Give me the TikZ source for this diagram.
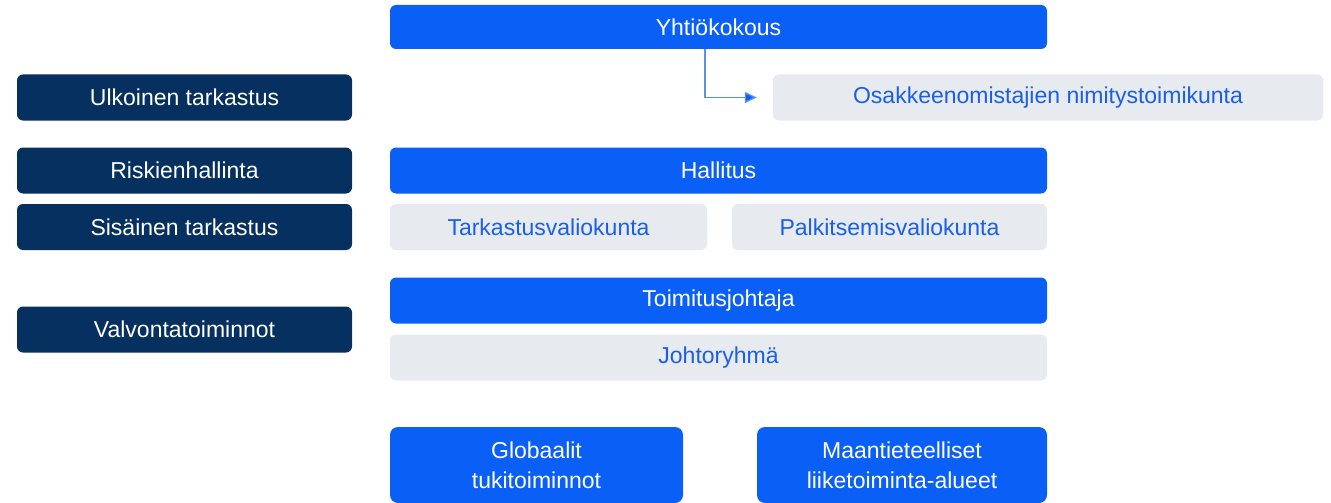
\documentclass[tikz,border=0pt]{standalone}
\usepackage{fontspec}
\setmainfont{Liberation Sans}
\usetikzlibrary{arrows.meta}
\definecolor{brightblue}{HTML}{0A5FF7}
\definecolor{navy}{HTML}{06305F}
\definecolor{lightgray}{HTML}{E7EAEE}
\definecolor{textblue}{HTML}{1A5FE6}
\definecolor{lineblue}{HTML}{5C8EF2}
\tikzset{
  basebox/.style={rectangle, rounded corners=6pt, inner sep=0pt, align=center,
    font=\fontsize{23pt}{30pt}\selectfont, minimum height=46pt},
  bluebox/.style={basebox, fill=brightblue, text=white},
  navybox/.style={basebox, fill=navy, text=white, minimum width=335pt},
  graybox/.style={basebox, fill=lightgray, text=textblue},
  link/.style={draw=lineblue, line width=1.4pt, -{Triangle[length=12pt,width=11pt,fill=brightblue]}}
}
\begin{document}
\begin{tikzpicture}[x=1pt,y=-1pt]
\useasboundingbox[fill=white] (0,0) rectangle (1331,503);
% left column
\node[navybox] (ulk) at (184.5,97.5) {Ulkoinen tarkastus};
\node[navybox] (risk) at (184.5,170.5) {Riskienhallinta};
\node[navybox] (sis) at (184.5,227) {Sisäinen tarkastus};
\node[navybox] (valv) at (184.5,329.5) {Valvontatoiminnot};
% main column
\node[bluebox, minimum width=657pt, minimum height=44pt] (yht) at (718.5,27) {Yhtiökokous};
\node[graybox, minimum width=550pt] (osak) at (1048,97.5) {Osakkeenomistajien nimitystoimikunta};
\node[bluebox, minimum width=657pt] (hall) at (718.5,170.5) {Hallitus};
\node[graybox, minimum width=317pt] (tark) at (548.5,227) {Tarkastusvaliokunta};
\node[graybox, minimum width=315pt] (palk) at (889.5,227) {Palkitsemisvaliokunta};
\node[bluebox, minimum width=657pt] (toim) at (718.5,300.5) {Toimitusjohtaja};
\node[graybox, minimum width=657pt] (joht) at (718.5,357.5) {Johtoryhmä};
\node[bluebox, rounded corners=8pt, minimum width=293pt, minimum height=76pt] (glob) at (536.5,465) {Globaalit\\tukitoiminnot};
\node[bluebox, rounded corners=8pt, minimum width=290pt, minimum height=76pt] (maan) at (902,465) {Maantieteelliset\\liiketoiminta-alueet};
% connector
\coordinate (bend) at (705,98);
\draw[link, shorten >=16pt] (yht.south -| bend) |- (osak.west);
\end{tikzpicture}
\end{document}
